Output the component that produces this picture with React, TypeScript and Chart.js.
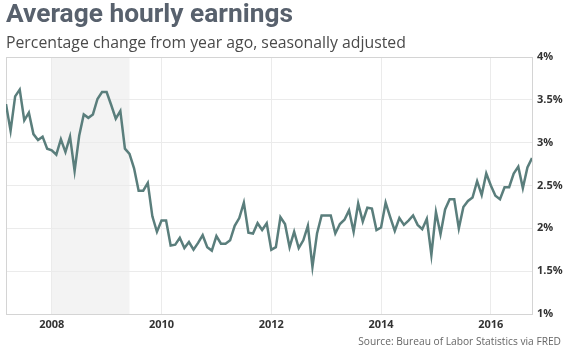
import React, { useEffect, useRef } from "react";
import { Chart, registerables } from "chart.js";

Chart.register(...registerables);

// Year-over-year % change in average hourly earnings, monthly (Mar 2007 – Oct 2016)
const startYear = 2007;
const startMonth = 3; // March
const values2007 = [3.45, 3.14, 3.54, 3.62, 3.26, 3.35, 3.10, 3.03, 3.07, 2.93];
const values2008 = [2.91, 2.86, 3.04, 2.89, 3.07, 2.67, 3.08, 3.33, 3.29, 3.33, 3.51, 3.59];
const values2009 = [3.59, 3.44, 3.28, 3.37, 2.93, 2.87, 2.70, 2.44, 2.44, 2.53, 2.14, 1.96];
const values2010 = [2.09, 2.09, 1.80, 1.81, 1.89, 1.77, 1.84, 1.75, 1.83, 1.92, 1.78, 1.74];
const values2011 = [1.91, 1.82, 1.82, 1.86, 2.03, 2.12, 2.30, 1.95, 1.94, 2.06, 1.98, 2.06];
const values2012 = [1.75, 1.78, 2.13, 2.05, 1.78, 1.96, 1.77, 1.86, 2.03, 1.55, 1.94, 2.15];
const values2013 = [2.15, 2.15, 1.94, 2.05, 2.10, 2.21, 1.96, 2.29, 2.08, 2.24, 2.23, 1.98];
const values2014 = [2.01, 2.30, 2.13, 1.97, 2.12, 2.04, 2.09, 2.15, 2.04, 1.99, 2.11, 1.69];
const values2015 = [2.19, 1.93, 2.22, 2.34, 2.34, 2.00, 2.25, 2.32, 2.36, 2.55, 2.39, 2.64];
const values2016 = [2.50, 2.38, 2.34, 2.48, 2.48, 2.64, 2.72, 2.47, 2.71, 2.82];

const xTickYears = [2008, 2010, 2012, 2014, 2016];
const yTicks = [1, 1.5, 2, 2.5, 3, 3.5, 4];
const recessionStart = 2008.0; // Dec 2007 peak
const recessionEnd = 2009 + 5 / 12; // June 2009 trough

const title = "Average hourly earnings";
const subtitle = "Percentage change from year ago, seasonally adjusted";
const source = "Source: Bureau of Labor Statistics via FRED";

const allValues = [
  ...values2007, ...values2008, ...values2009, ...values2010, ...values2011,
  ...values2012, ...values2013, ...values2014, ...values2015, ...values2016,
];

const points = allValues.map((v, i) => ({
  x: startYear + (startMonth - 1 + i) / 12,
  y: v,
}));

const xMin = points[0].x;
const xMax = points[points.length - 1].x;

const recessionPlugin = {
  id: "recession",
  beforeDraw(chart: any) {
    const { ctx, chartArea, scales } = chart;
    const x0 = scales.x.getPixelForValue(recessionStart);
    const x1 = scales.x.getPixelForValue(recessionEnd);
    ctx.save();
    ctx.fillStyle = "#f3f3f3";
    ctx.fillRect(x0, chartArea.top, x1 - x0, chartArea.bottom - chartArea.top);
    ctx.restore();
  },
  beforeDatasetsDraw(chart: any) {
    const { ctx, chartArea } = chart;
    ctx.save();
    ctx.strokeStyle = "#d4d4d4";
    ctx.lineWidth = 1;
    ctx.strokeRect(
      Math.round(chartArea.left) + 0.5,
      Math.round(chartArea.top) + 0.5,
      Math.round(chartArea.right - chartArea.left),
      Math.round(chartArea.bottom - chartArea.top)
    );
    ctx.restore();
  },
};

export default function App() {
  const canvasRef = useRef<HTMLCanvasElement | null>(null);

  useEffect(() => {
    if (!canvasRef.current) return;
    const chart = new Chart(canvasRef.current, {
      type: "line",
      data: {
        datasets: [
          {
            data: points,
            borderColor: "#5a7e7c",
            borderWidth: 2.5,
            pointRadius: 0,
            tension: 0,
            fill: false,
          },
        ],
      },
      options: {
        animation: false,
        responsive: false,
        maintainAspectRatio: false,
        layout: { padding: { left: 6, top: 57, right: 0, bottom: 0 } },
        plugins: {
          legend: { display: false },
          tooltip: { enabled: false },
        },
        scales: {
          x: {
            type: "linear",
            min: xMin,
            max: xMax,
            afterBuildTicks: (scale: any) => {
              scale.ticks = xTickYears.map((v) => ({ value: v }));
            },
            afterFit: (scale: any) => {
              scale.height = 37;
            },
            grid: { color: "#ebebeb", drawTicks: false, lineWidth: 1 },
            border: { display: false },
            ticks: {
              padding: 4,
              maxRotation: 0,
              autoSkip: false,
              color: "#333333",
              font: { family: "Open Sans", weight: "bold", size: 11 },
              callback: (v: any) => String(v),
            },
          },
          y: {
            type: "linear",
            position: "right",
            min: 1,
            max: 4,
            afterBuildTicks: (scale: any) => {
              scale.ticks = yTicks.map((v) => ({ value: v }));
            },
            afterFit: (scale: any) => {
              scale.width = 34;
            },
            grid: { color: "#ebebeb", drawTicks: false, lineWidth: 1 },
            border: { display: false },
            ticks: {
              padding: 5,
              color: "#333333",
              font: { family: "Open Sans", weight: "bold", size: 11 },
              callback: (v: any) => v + "%",
            },
          },
        },
      },
      plugins: [recessionPlugin],
    });
    return () => chart.destroy();
  }, []);

  return (
    <div style={{ position: "absolute", left: 0, top: 0, width: 566, height: 351, background: "#fff", overflow: "hidden" }}>
      <canvas ref={canvasRef} width={566} height={351} style={{ position: "absolute", left: 0, top: 0, width: 566, height: 351 }} />
      <div
        style={{
          position: "absolute",
          left: 6,
          top: 0,
          fontFamily: "Roboto",
          fontWeight: 700,
          fontSize: 26.3,
          lineHeight: "26px",
          color: "#58616d",
          whiteSpace: "nowrap",
        }}
      >
        {title}
      </div>
      <div
        style={{
          position: "absolute",
          left: 6,
          top: 34,
          fontFamily: "Open Sans",
          fontSize: 15.8,
          lineHeight: "16px",
          color: "#4a4a4a",
          whiteSpace: "nowrap",
        }}
      >
        {subtitle}
      </div>
      <div
        style={{
          position: "absolute",
          right: 5,
          top: 335,
          fontFamily: "Open Sans",
          fontSize: 10.2,
          lineHeight: "12px",
          color: "#666666",
          whiteSpace: "nowrap",
        }}
      >
        {source}
      </div>
    </div>
  );
}
